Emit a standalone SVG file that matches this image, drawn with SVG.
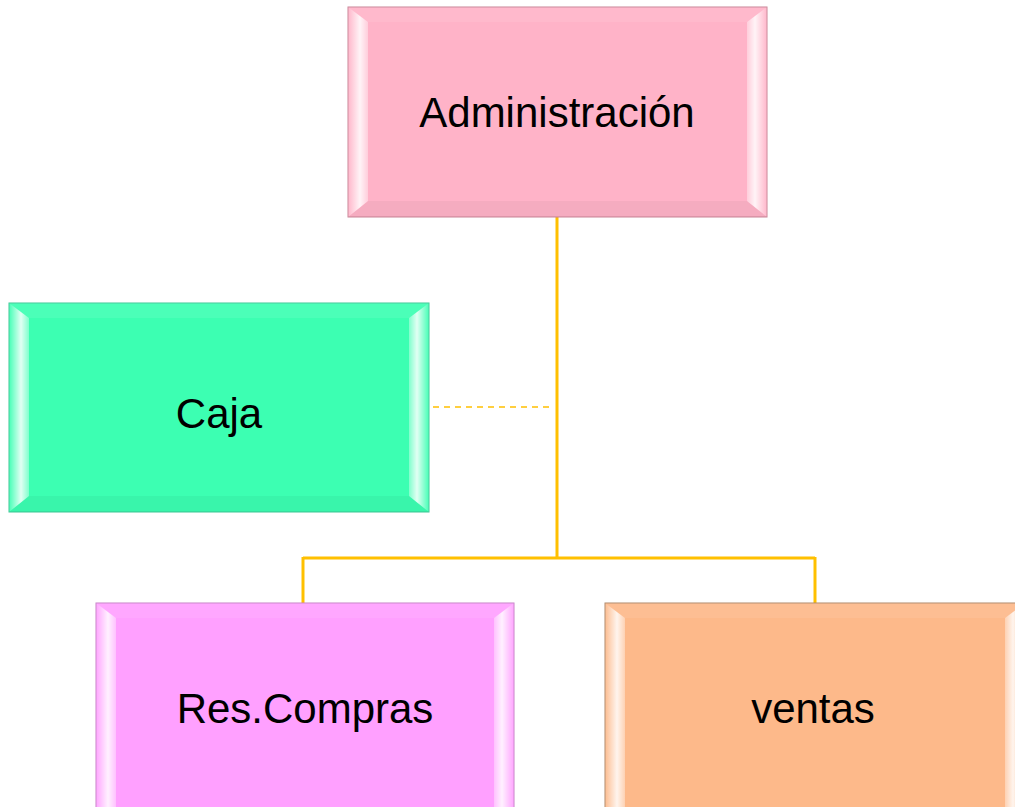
<svg xmlns="http://www.w3.org/2000/svg" width="1015" height="807" viewBox="0 0 1015 807">
<defs>
<linearGradient id="gl" x1="0" y1="0" x2="1" y2="0">
<stop offset="0" stop-color="#fff" stop-opacity="0.05"/>
<stop offset="0.6" stop-color="#fff" stop-opacity="0.85"/>
<stop offset="1" stop-color="#fff" stop-opacity="0.35"/>
</linearGradient>
<linearGradient id="gr" x1="1" y1="0" x2="0" y2="0">
<stop offset="0" stop-color="#fff" stop-opacity="0.05"/>
<stop offset="0.6" stop-color="#fff" stop-opacity="0.85"/>
<stop offset="1" stop-color="#fff" stop-opacity="0.35"/>
</linearGradient>
</defs>
<style>
.lbl{font-family:"Liberation Sans",Arial,sans-serif;font-size:42px;fill:#000;text-anchor:middle}
.bt{fill:#fff;fill-opacity:0.08}
.bb{fill:#000;fill-opacity:0.04}
.bl{fill:url(#gl)}
.br{fill:url(#gr)}
.con{fill:none;stroke:#FFC000;stroke-width:3}
.dash{fill:none;stroke:#FFC000;stroke-width:1.5;stroke-dasharray:6 5}
</style>
<rect width="1015" height="807" fill="#fff"/>
<g id="connectors">
<path class="con" d="M557 217 V558"/>
<path class="con" d="M303 558 H815"/>
<path class="con" d="M303 557 V603"/>
<path class="con" d="M815 557 V603"/>
<path class="dash" d="M433 407 H553"/>
</g>
<g id="n-admin">
<rect x="348" y="7" width="419" height="210" fill="#FFB3C8" stroke="#C98496" stroke-width="1"/>
<polygon class="bt" points="348,7 767,7 747,22 368,22"/>
<polygon class="bb" points="348,217 767,217 747,201 368,201"/>
<polygon class="bl" points="348,7 368,22 368,201 348,217"/>
<polygon class="br" points="767,7 747,22 747,201 767,217"/>
<text class="lbl" x="557" y="127">Administración</text>
</g>
<g id="n-caja">
<rect x="9" y="303" width="420" height="209" fill="#3CFFB2" stroke="#3CC896" stroke-width="1"/>
<polygon class="bt" points="9,303 429,303 409,318 29,318"/>
<polygon class="bb" points="9,512 429,512 409,496 29,496"/>
<polygon class="bl" points="9,303 29,318 29,496 9,512"/>
<polygon class="br" points="429,303 409,318 409,496 429,512"/>
<text class="lbl" x="219" y="428">Caja</text>
</g>
<g id="n-compras">
<rect x="96" y="603" width="418" height="214" fill="#FFA0FF" stroke="#C880C8" stroke-width="1"/>
<polygon class="bt" points="96,603 514,603 494,618 116,618"/>
<polygon class="bl" points="96,603 116,618 116,807 96,807"/>
<polygon class="br" points="514,603 494,618 494,807 514,807"/>
<text class="lbl" x="305" y="723">Res.Compras</text>
</g>
<g id="n-ventas">
<rect x="605" y="603" width="420" height="214" fill="#FDB98A" stroke="#B08868" stroke-width="1"/>
<polygon class="bt" points="605,603 1025,603 1005,618 625,618"/>
<polygon class="bl" points="605,603 625,618 625,807 605,807"/>
<polygon class="br" points="1025,603 1005,618 1005,807 1025,807"/>
<text class="lbl" x="813" y="723">ventas</text>
</g>
</svg>
